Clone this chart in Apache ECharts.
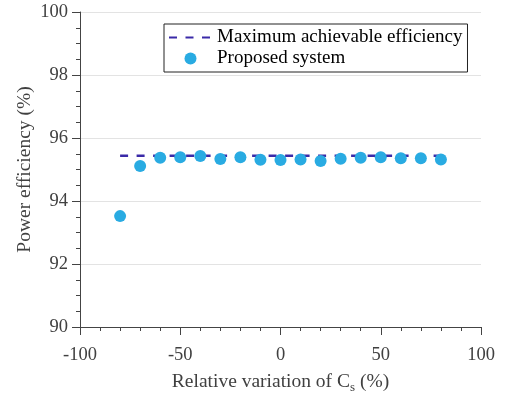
<!DOCTYPE html>
<html><head><meta charset="utf-8">
<script src="https://cdn.jsdelivr.net/npm/echarts@6/dist/echarts.min.js"></script>
<style>html,body{margin:0;padding:0;background:#fff}#c{width:506px;height:397px}</style>
</head><body><div id="c"></div>
<script>
const variation = [-80,-70,-60,-50,-40,-30,-20,-10,0,10,20,30,40,50,60,70,80];
const proposed = [93.52,95.11,95.37,95.39,95.43,95.33,95.39,95.31,95.30,95.32,95.27,95.34,95.37,95.39,95.36,95.36,95.32];
const maxEffX = [-80, 80];
const maxEffY = [95.44, 95.44];
const seriesNames = ['Maximum achievable efficiency','Proposed system'];

const font = 'Liberation Serif';
const txt = '#404040';
const chart = echarts.init(document.getElementById('c'), null, {renderer:'canvas'});
chart.setOption({
  animation:false,
  backgroundColor:'#fff',
  grid:{left:80,right:25,top:12,bottom:70,containLabel:false,outerBoundsMode:'none'},
  legend:{
    left:164, top:24, orient:'vertical', itemGap:2, itemWidth:43, itemHeight:12,
    backgroundColor:'#fff', borderColor:'#222', borderWidth:1, borderRadius:0,
    padding:[4,5,4,4],
    textStyle:{fontFamily:font,fontSize:19,color:'#000'},
    data:[{name:seriesNames[0],itemStyle:{opacity:0}},{name:seriesNames[1],icon:'circle'}]
  },
  xAxis:{
    type:'value', min:-100, max:100, interval:50,
    axisLine:{onZero:false,lineStyle:{color:'#444'}},
    axisTick:{inside:false,length:8,lineStyle:{color:'#444'}},
    minorTick:{show:true,splitNumber:5,length:4,lineStyle:{color:'#444'}},
    splitLine:{show:false},
    axisLabel:{fontFamily:font,fontSize:18.5,color:txt,margin:19},
    name:'{a|Relative variation of C}{s|s}{a| (%)}',
    nameLocation:'middle', nameGap:43, nameMoveOverlap:false,
    nameTextStyle:{rich:{a:{fontFamily:font,fontSize:19.5,color:txt},s:{fontFamily:font,fontSize:13,color:txt,padding:[11,0,0,0]}}}
  },
  yAxis:{
    type:'value', min:90, max:100, interval:2,
    axisLine:{show:true,onZero:false,lineStyle:{color:'#444'}},
    axisTick:{show:true,inside:false,length:8,lineStyle:{color:'#444'}},
    minorTick:{show:true,splitNumber:4,length:4,lineStyle:{color:'#444'}},
    splitLine:{show:true,lineStyle:{color:'#e3e3e3'}},
    axisLabel:{fontFamily:font,fontSize:18.5,color:txt,margin:12},
    name:'Power efficiency (%)', nameLocation:'middle', nameGap:45, nameMoveOverlap:false,
    nameTextStyle:{fontFamily:font,fontSize:19.5,color:txt}
  },
  series:[
    {name:seriesNames[0], type:'line', data:maxEffX.map((x,i)=>[x,maxEffY[i]]),
     showSymbol:false, symbol:'none', lineStyle:{color:'#3a2aa8',width:2.5,type:[8,8.5]},
     itemStyle:{color:'#3a2aa8'}, z:1},
    {name:seriesNames[1], type:'scatter', data:variation.map((x,i)=>[x,proposed[i]]),
     symbol:'circle', symbolSize:12, itemStyle:{color:'#29abe2',opacity:1}, z:2}
  ]
});
</script></body></html>
